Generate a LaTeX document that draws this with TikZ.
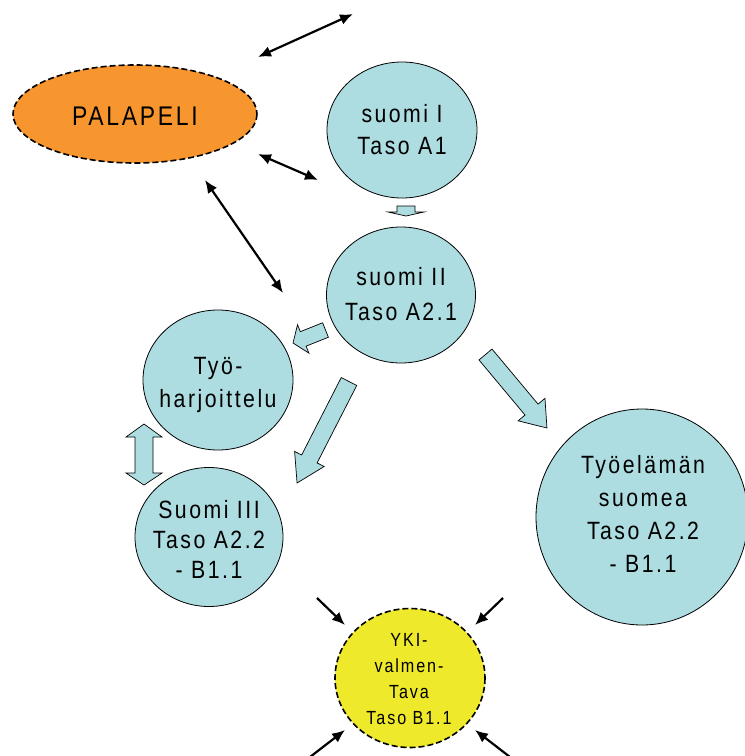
\documentclass[tikz,border=0pt]{standalone}
\usepackage{fontspec}
\setmainfont{Liberation Sans}[FakeStretch=0.85,LetterSpace=10]
\usetikzlibrary{arrows.meta}
\definecolor{bubblecolor}{HTML}{ADDDE1}
\definecolor{puzzlecolor}{HTML}{F7962E}
\definecolor{ykicolor}{HTML}{EEE92A}

\tikzset{
  bubble/.style={draw=black, line width=0.8pt, fill=bubblecolor},
  bubbletext/.style={align=center, inner sep=0pt, font=\fontsize{25}{32}\selectfont},
  dashedring/.style={draw=black, line width=1.6pt, dash pattern=on 6pt off 3pt},
  twoway/.style={{Latex[length=13pt,width=11pt]}-{Latex[length=13pt,width=11pt]}, line width=2.2pt},
  oneway/.style={-{Latex[length=13pt,width=11pt]}, line width=2.2pt},
  pics/blockarr/.style args={#1/#2/#3/#4}{code={
    \draw[bubble, line width=0.7pt] (0,{-#2}) -- ({#1-#4},{-#2}) -- ({#1-#4},{-#3})
      -- (#1,0) -- ({#1-#4},#3) -- ({#1-#4},#2) -- (0,#2) -- cycle;
  }}
}

\begin{document}
\begin{tikzpicture}[x=1pt, y=-1pt]
    \useasboundingbox (0,0) rectangle (745,756);

% Puzzle
    \draw[dashedring, fill=puzzlecolor] (135,114) ellipse (122 and 49);
    \node[font=\fontsize{27}{30}\selectfont, inner sep=0pt] (palapeli) at (135,116) {PALAPELI};

% Courses
    % suomi I
    \draw[bubble] (402,130) ellipse (75 and 68);
    \node[bubbletext] (suomi1) at (402,130) {suomi I\\Taso A1};
    % suomi II
    \draw[bubble] (401,295) ellipse (74.5 and 68);
    \node[bubbletext, font=\fontsize{25}{35}\selectfont] (suomi2) at (401,294) {suomi II\\Taso A2.1};
    % Tyoharjoittelu
    \draw[bubble] (218,380) ellipse (75 and 70);
    \node[bubbletext, font=\fontsize{25}{33}\selectfont] (harj) at (218,385) {Työ-\\harjoittelu};
    % Suomi III
    \draw[bubble] (209,537) ellipse (74 and 69.5);
    \node[bubbletext, font=\fontsize{25}{30}\selectfont] (suomi3) at (209,539) {Suomi III\\Taso A2.2\\- B1.1};
    % Tyoelaman suomea
    \draw[bubble] (642,517) ellipse (106 and 108);
    \node[bubbletext, font=\fontsize{25}{33}\selectfont] (tyoel) at (643,514) {Työelämän\\suomea\\Taso A2.2\\- B1.1};

% YKI
    \draw[dashedring, fill=ykicolor] (410,678) ellipse (75 and 69.5);
    \node[bubbletext, font=\fontsize{19}{25.7}\selectfont] (yki) at (409,679) {YKI-\\valmen-\\Tava\\Taso B1.1};

% Block arrows
    \pic[rotate=-90] at (406,206) {blockarr=10/9/18/4};
    \pic[rotate=-158.2] at (325.5,330) {blockarr=35/7.8/15.3/11};
    \pic[rotate=-117.1] at (349,381.5) {blockarr=114/8.7/16.6/27};
    \pic[rotate=-50.1] at (485.5,354.5) {blockarr=95.8/8.5/17.5/24};
    % double arrow between Tyoharjoittelu and Suomi III
    \draw[bubble, line width=0.7pt] (144,424) -- (162,437) -- (153,437) -- (153,473) -- (162,473)
      -- (144,485) -- (126,473) -- (135,473) -- (135,437) -- (126,437) -- cycle;

% Arrows round the puzzle
    \coordinate (pa1) at (258,57);
    \coordinate (pb1) at (353,14);
    \coordinate (pa2) at (258,154);
    \coordinate (pb2) at (318,180);
    \coordinate (pa3) at (205,180);
    \coordinate (pb3) at (283,293);
    \draw[twoway] (pa1) -- (pb1);
    \draw[twoway] (pa2) -- (pb2);
    \draw[twoway] (pa3) -- (pb3);

% Arrows into YKI
    \coordinate (ynw) at (317,598);
    \coordinate (yne) at (503,598);
    \coordinate (ysw) at (310,757);
    \coordinate (yse) at (510,757);
    \coordinate (ynw2) at (345,625);
    \coordinate (yne2) at (475,625);
    \coordinate (ysw2) at (345,730);
    \coordinate (yse2) at (475,730);
    \draw[oneway] (ynw) -- (ynw2);
    \draw[oneway] (yne) -- (yne2);
    \draw[oneway] (ysw) -- (ysw2);
    \draw[oneway] (yse) -- (yse2);

\end{tikzpicture}
\end{document}
